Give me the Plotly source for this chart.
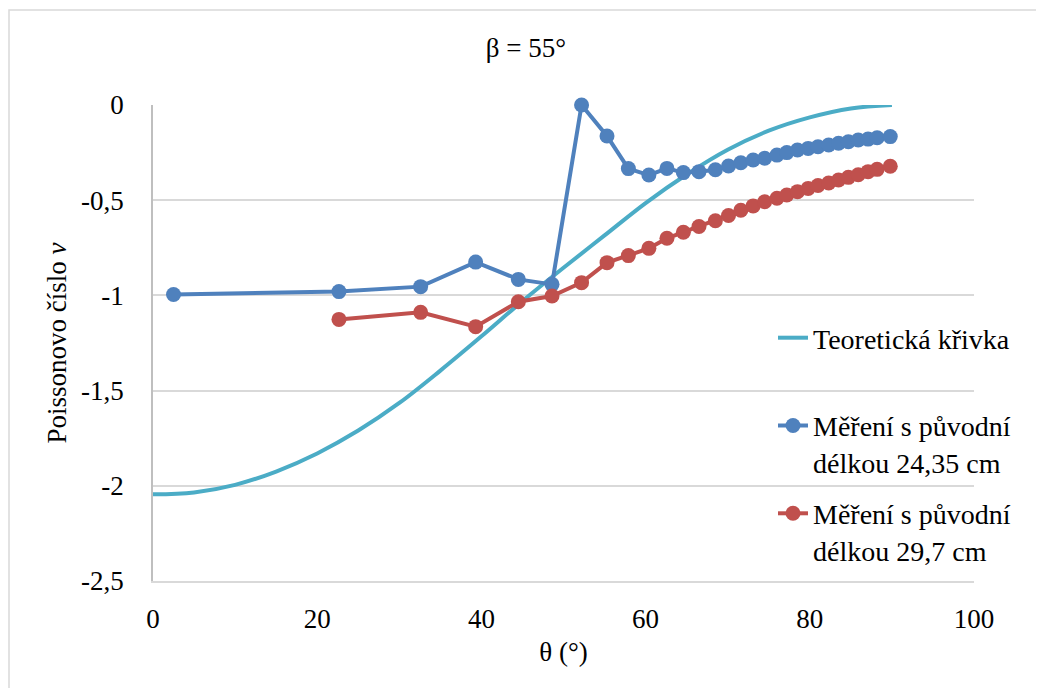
import plotly.graph_objects as go

# ---- data ----
theory_x = [0, 5, 10, 15, 20, 25, 30, 35, 40, 45, 50, 55, 60, 65, 70, 75, 80, 85, 90]
theory_y = [-2.045, -2.035, -1.995, -1.925, -1.83, -1.71, -1.565, -1.395, -1.215, -1.03, -0.855,
            -0.685, -0.515, -0.365, -0.235, -0.135, -0.065, -0.018, 0.0]

meas_x = [22.65, 32.6, 39.3, 44.5, 48.6, 52.2, 55.3, 57.9, 60.4, 62.6, 64.6, 66.5, 68.5, 70.1,
          71.6, 73.1, 74.5, 76.0, 77.2, 78.5, 79.8, 81.0, 82.3, 83.5, 84.7, 85.9, 87.1, 88.2, 89.8]

blue_x = [2.5] + meas_x
blue_y = [-0.995, -0.98, -0.954, -0.825, -0.916, -0.942, 0.0, -0.163, -0.334, -0.368, -0.333,
          -0.355, -0.35, -0.34, -0.32, -0.303, -0.289, -0.28, -0.263, -0.25, -0.236, -0.228,
          -0.219, -0.21, -0.201, -0.193, -0.184, -0.179, -0.172, -0.166]

red_x = meas_x
red_y = [-1.126, -1.089, -1.164, -1.033, -1.003, -0.933, -0.828, -0.791, -0.753, -0.70, -0.668,
         -0.638, -0.608, -0.58, -0.553, -0.53, -0.508, -0.49, -0.473, -0.455, -0.438, -0.423,
         -0.41, -0.394, -0.38, -0.366, -0.35, -0.338, -0.322]

x_ticks = [0, 20, 40, 60, 80, 100]
x_ticktext = ["0", "20", "40", "60", "80", "100"]
y_ticks = [0, -0.5, -1, -1.5, -2, -2.5]
y_ticktext = ["0", "-0,5", "-1", "-1,5", "-2", "-2,5"]

names = ["Teoretická křivka<br>\u00a0",
         "Měření s původní<br>délkou 24,35 cm",
         "Měření s původní<br>délkou 29,7 cm"]

FONT = "Liberation Serif"
C_THEORY = "#4BACC6"
C_BLUE = "#4F81BD"
C_RED = "#C0504D"

# page body has an 8px margin; the figure is offset accordingly
OFF = 8
L, R_EDGE, T, B_EDGE = 153 - OFF, 974 - OFF, 105 - OFF, 581 - OFF
W, H = 1044, 688
PW, PH = R_EDGE - L, B_EDGE - T

fig = go.Figure()
fig.add_trace(go.Scatter(x=theory_x, y=theory_y, mode="lines", name=names[0],
                         legendgroup="a", line=dict(color=C_THEORY, width=4, shape="spline"),
                         cliponaxis=False))
fig.add_trace(go.Scatter(x=blue_x, y=blue_y, mode="lines+markers", name=names[1],
                         legendgroup="b", line=dict(color=C_BLUE, width=4),
                         marker=dict(color=C_BLUE, size=15), cliponaxis=False))
fig.add_trace(go.Scatter(x=red_x, y=red_y, mode="lines+markers", name=names[2],
                         legendgroup="c", line=dict(color=C_RED, width=4),
                         marker=dict(color=C_RED, size=15), cliponaxis=False))

fig.update_layout(
    width=W, height=H,
    margin=dict(l=L, r=W - R_EDGE, t=T, b=H - B_EDGE),
    paper_bgcolor="white", plot_bgcolor="white",
    font=dict(family=FONT, size=27, color="black"),
    title=dict(text="β = 55°", x=(526 - OFF) / W, xref="container", y=1 - (48 - OFF) / H,
               yref="container", xanchor="center", yanchor="middle",
               font=dict(family=FONT, size=27)),
    showlegend=True,
    legend=dict(x=(773 - OFF - L) / PW, xanchor="left", y=(B_EDGE - (313 - OFF)) / PH,
                yanchor="top", font=dict(family=FONT, size=28), traceorder="grouped",
                tracegroupgap=12, valign="top", bgcolor="rgba(0,0,0,0)"),
    xaxis=dict(range=[0, 100], tickvals=x_ticks, ticktext=x_ticktext, showgrid=False,
               zeroline=False, showline=True, linecolor="#D9D9D9", linewidth=1.5,
               ticks="", ticklabelstandoff=13, tickfont=dict(family=FONT, size=27),
               title=dict(text="θ (°)", standoff=9, font=dict(family=FONT, size=27))),
    yaxis=dict(range=[-2.5, 0], tickvals=y_ticks, ticktext=y_ticktext, showgrid=True,
               gridcolor="#D9D9D9", gridwidth=1.5, zeroline=False, showline=True,
               linecolor="#BFBFBF", linewidth=1.5, ticks="", ticklabelstandoff=22,
               tickfont=dict(family=FONT, size=27),
               title=dict(text="Poissonovo číslo <i>v</i>", standoff=7,
                          font=dict(family=FONT, size=27))),
    shapes=[dict(type="rect", xref="paper", yref="paper",
                 x0=(9 - OFF - L) / PW, x1=(1060 - L) / PW,
                 y0=(B_EDGE - 700) / PH, y1=(B_EDGE - (10 - OFF)) / PH,
                 line=dict(color="#D9D9D9", width=1.5), fillcolor="rgba(0,0,0,0)", layer="below")],
)

fig.write_html("out.html")
